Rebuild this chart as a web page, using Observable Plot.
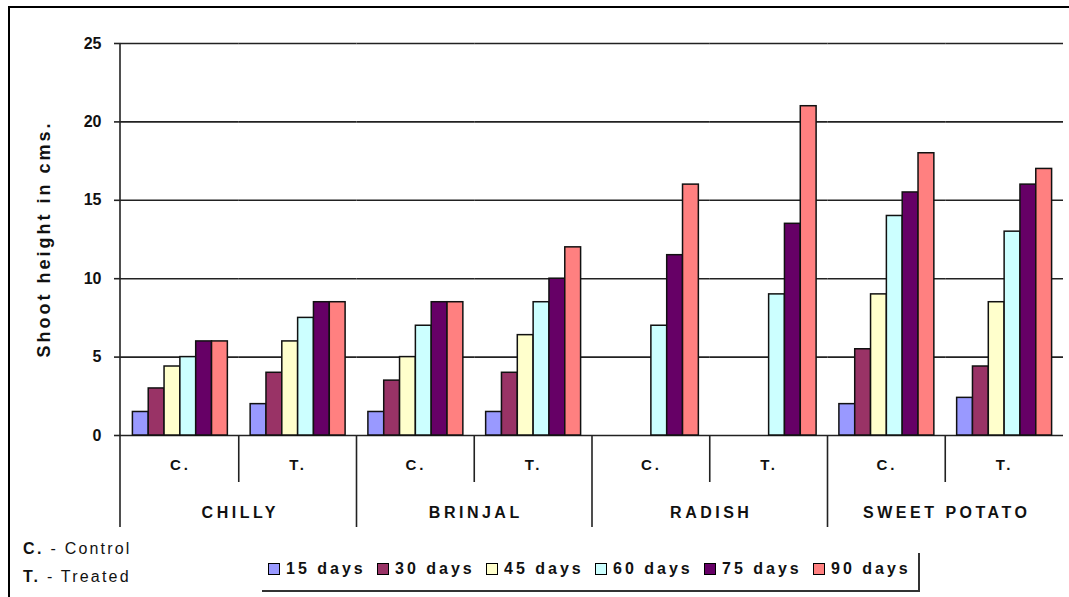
<!DOCTYPE html>
<html>
<head>
<meta charset="utf-8">
<script src="https://cdn.jsdelivr.net/npm/d3@7"></script>
<script src="https://cdn.jsdelivr.net/npm/@observablehq/plot@0.6"></script>
<style>
  html, body { margin: 0; padding: 0; background: #fff; }
  #wrap { position: relative; width: 1069px; height: 597px; overflow: hidden; font-family: "Liberation Sans", Arial, sans-serif; }
  #frame { position: absolute; left: 8px; top: 6px; width: 1100px; height: 700px; border-top: 2px solid #000; border-left: 2px solid #000; pointer-events: none; }
  #chart { position: absolute; left: 0; top: 0; }
  #notes { position: absolute; left: 23px; top: 535px; font-size: 16px; letter-spacing: 2.2px; color: #111; line-height: 28px; }
  #notes b { letter-spacing: 2.4px; }
  #legend { position: absolute; left: 262px; top: 553px; width: 656px; height: 37px; border-right: 2px solid #333; border-bottom: 2px solid #333; box-sizing: content-box; }
  #legend .items { position: absolute; left: 6px; top: 7px; display: flex; white-space: nowrap; }
  #legend .item { display: inline-flex; align-items: flex-end; width: 109px; font-size: 16px; font-weight: bold; letter-spacing: 3px; color: #111; }
  #legend .sw { display: inline-block; width: 10px; height: 10px; border: 1.5px solid #000; margin-right: 6px; margin-bottom: 3px; }
  [aria-label="fx-axis tick label"] text { letter-spacing: 3px; }
</style>
</head>
<body>
<div id="wrap">
  <div id="chart"></div>
  <div id="frame"></div>
  <div id="notes"><div><b>C.</b> - Control</div><div><b>T.</b> - Treated</div></div>
  <div id="legend"><div class="items"></div></div>
</div>
<script>
// ---- data ----
const groups = ["CHILLY", "BRINJAL", "RADISH", "SWEET POTATO"];
const treatments = ["C.", "T."];
const series = ["15 days", "30 days", "45 days", "60 days", "75 days", "90 days"];
// values per subgroup: CHILLY C., CHILLY T., BRINJAL C., BRINJAL T., RADISH C., RADISH T., SWEET POTATO C., SWEET POTATO T.
const days15 = [1.5, 2, 1.5, 1.5, null, null, 2, 2.4];
const days30 = [3, 4, 3.5, 4, null, null, 5.5, 4.4];
const days45 = [4.4, 6, 5, 6.4, null, null, 9, 8.5];
const days60 = [5, 7.5, 7, 8.5, 7, 9, 14, 13];
const days75 = [6, 8.5, 8.5, 10, 11.5, 13.5, 15.5, 16];
const days90 = [6, 8.5, 8.5, 12, 16, 21, 18, 17];
const colors = ["#9999FF", "#993366", "#FFFFCC", "#CCFFFF", "#660066", "#FF8080"];
const yTicks = [0, 5, 10, 15, 20, 25];
const yTitle = "Shoot height in cms.";

// ---- build table ----
const keys = [];
groups.forEach(g => treatments.forEach(t => keys.push(g + "|" + t)));
const seriesValues = [days15, days30, days45, days60, days75, days90];
const rows = [];
keys.forEach((k, i) => series.forEach((s, j) => {
  const v = seriesValues[j][i];
  if (v != null) rows.push({key: k, series: s, value: v});
}));

const W = 1069, H = 597;
const plot = Plot.plot({
  width: W, height: H,
  marginTop: 43, marginBottom: 162, marginLeft: 121, marginRight: 6,
  style: {fontFamily: "'Liberation Sans', Arial, sans-serif", background: "transparent", overflow: "visible"},
  fx: {domain: keys, padding: 0, round: false, label: null},
  x: {domain: series, paddingOuter: 0.72, paddingInner: 0, round: false, axis: null},
  y: {domain: [0, 25], label: null},
  color: {domain: series, range: colors},
  marks: [
    Plot.ruleY(yTicks, {stroke: "#222", strokeWidth: 1.6}),
    Plot.barY(rows, {fx: "key", x: "series", y: "value", fill: "series", stroke: "#111", strokeWidth: 1.5, inset: 0}),
    Plot.axisY({ticks: yTicks, tickSize: 7, tickPadding: 13, fontSize: 16, fontWeight: "bold", fill: "#111", stroke: "#222", strokeWidth: 1.6, label: null}),
    Plot.axisFx({anchor: "bottom", tickSize: 0, tickPadding: 24, fontSize: 15, fontWeight: "bold", fill: "#111", label: null, tickFormat: k => k.split("|")[1]})
  ]
});
document.getElementById("chart").appendChild(plot);

// ---- two-level category axis lines and group labels, through Plot's scales ----
const svg = d3.select(plot);
const fx = plot.scale("fx");
const y = plot.scale("y");
const y0 = y.apply(0), y25 = y.apply(25);
const g = svg.append("g").attr("stroke", "#222").attr("stroke-width", 1.6);
// y axis line (continues as the left separator)
g.append("line").attr("x1", fx.apply(keys[0]) - 1).attr("x2", fx.apply(keys[0]) - 1).attr("y1", y25).attr("y2", y0 + 92);
groups.forEach((gr, i) => {
  const xc = fx.apply(gr + "|C.");
  const xt = fx.apply(gr + "|T.");
  if (i > 0) g.append("line").attr("x1", xc).attr("x2", xc).attr("y1", y0).attr("y2", y0 + 92);
  g.append("line").attr("x1", xt).attr("x2", xt).attr("y1", y0).attr("y2", y0 + 47);
  svg.append("text").attr("x", xt + 1.5).attr("y", y0 + 83)
    .attr("text-anchor", "middle").attr("font-size", 16).attr("font-weight", "bold")
    .attr("letter-spacing", "3.5px").attr("fill", "#111").text(gr);
});
// y title
svg.append("text")
  .attr("transform", `translate(50,${(y0 + y25) / 2}) rotate(-90)`)
  .attr("text-anchor", "middle").attr("font-size", 18).attr("font-weight", "bold")
  .attr("letter-spacing", "3px").attr("fill", "#111").text(yTitle);

// ---- legend from the plot's color scale ----
const color = plot.scale("color");
const items = d3.select("#legend .items");
color.domain.forEach((d, i) => {
  const it = items.append("span").attr("class", "item");
  it.append("span").attr("class", "sw").style("background", color.range[i]);
  it.append("span").text(d);
});
</script>
</body>
</html>
